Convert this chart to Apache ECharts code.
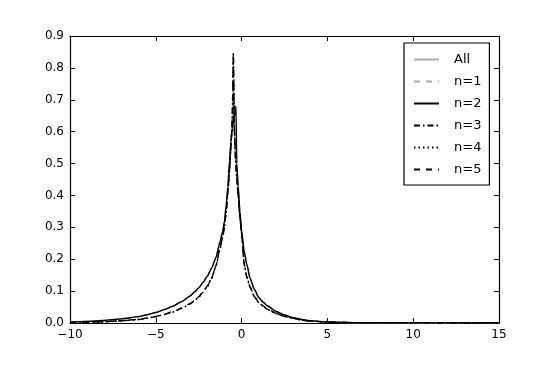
<!DOCTYPE html>
<html><head><meta charset="utf-8">
<script src="https://cdn.jsdelivr.net/npm/echarts@6/dist/echarts.min.js"></script>
<style>html,body{margin:0;padding:0;background:#fff}#c{width:555px;height:370px}</style>
</head><body><div id="c"></div>
<script>
const xs   = [-10,-9,-8,-7,-6,-5.5,-5,-4.5,-4,-3.5,-3,-2.75,-2.5,-2.25,-2,-1.75,-1.5,-1.25,-1.1,-1,-0.9,-0.8,-0.7,-0.62,-0.55,-0.48,-0.42,-0.36,-0.33,-0.28,-0.2,-0.1,0,0.15,0.3,0.5,0.75,1,1.25,1.5,2,2.5,3,3.5,4,5,6,7,8,10,12,15];
const yAll = [0.003,0.005,0.008,0.013,0.02,0.026,0.033,0.042,0.053,0.066,0.084,0.096,0.109,0.126,0.146,0.171,0.204,0.254,0.286,0.316,0.365,0.424,0.505,0.565,0.61,0.75,0.6,0.53,0.51,0.49,0.425,0.345,0.285,0.22,0.182,0.138,0.104,0.079,0.065,0.053,0.036,0.024,0.016,0.011,0.007,0.003,0.0015,0.001,0.0007,0.0004,0.0002,0.0001];
const yN1  = [0.001,0.002,0.004,0.007,0.011,0.015,0.02,0.027,0.035,0.046,0.06,0.069,0.081,0.096,0.114,0.139,0.177,0.234,0.268,0.298,0.345,0.408,0.478,0.548,0.63,0.8,0.59,0.51,0.48,0.445,0.395,0.325,0.275,0.182,0.143,0.11,0.081,0.063,0.052,0.042,0.029,0.02,0.014,0.009,0.006,0.003,0.0015,0.0008,0.0005,0.0002,0.0001,0];
const yN2  = [0.003,0.005,0.008,0.013,0.02,0.026,0.033,0.042,0.053,0.067,0.085,0.097,0.11,0.127,0.147,0.172,0.205,0.256,0.288,0.318,0.368,0.428,0.51,0.57,0.61,0.63,0.65,0.66,0.68,0.5,0.43,0.35,0.29,0.225,0.185,0.14,0.105,0.08,0.066,0.054,0.037,0.025,0.017,0.011,0.007,0.003,0.0015,0.001,0.0007,0.0004,0.0002,0.0001];
const yN3  = [0.001,0.002,0.004,0.007,0.011,0.015,0.02,0.027,0.035,0.046,0.06,0.07,0.082,0.097,0.115,0.14,0.178,0.235,0.27,0.3,0.347,0.41,0.48,0.55,0.63,0.85,0.6,0.52,0.49,0.45,0.4,0.33,0.28,0.185,0.145,0.112,0.082,0.064,0.053,0.043,0.03,0.021,0.015,0.009,0.006,0.003,0.0015,0.0008,0.0005,0.0002,0.0001,0];
const yN4  = [0.001,0.002,0.004,0.007,0.011,0.015,0.02,0.026,0.034,0.045,0.059,0.069,0.081,0.096,0.114,0.139,0.177,0.233,0.268,0.298,0.345,0.408,0.478,0.548,0.63,0.83,0.6,0.52,0.49,0.45,0.4,0.33,0.28,0.184,0.144,0.111,0.081,0.064,0.053,0.043,0.03,0.021,0.015,0.009,0.006,0.003,0.0015,0.0008,0.0005,0.0002,0.0001,0];
const yN5  = [0.001,0.002,0.004,0.007,0.012,0.016,0.021,0.028,0.036,0.047,0.061,0.071,0.083,0.098,0.116,0.141,0.18,0.238,0.272,0.302,0.35,0.412,0.482,0.552,0.635,0.84,0.61,0.525,0.495,0.455,0.402,0.332,0.282,0.187,0.147,0.113,0.083,0.065,0.054,0.044,0.031,0.021,0.015,0.009,0.006,0.003,0.0015,0.0008,0.0005,0.0002,0.0001,0];
const xTicks = [-10,-5,0,5,10,15];
const yTicks = [0,0.1,0.2,0.3,0.4,0.5,0.6,0.7,0.8,0.9];
const names = ['All','n=1','n=2','n=3','n=4','n=5'];
const ys = [yAll,yN1,yN2,yN3,yN4,yN5];
const styles = [
  {color:'#a8a8a8', width:1.6, type:'solid'},
  {color:'#a8a8a8', width:1.3, type:[6,6]},
  {color:'#000', width:1.4, type:'solid'},
  {color:'#000', width:1.3, type:[6,3,1.5,3]},
  {color:'#000', width:1.3, type:[1.5,3]},
  {color:'#000', width:1.3, type:[6,6]}
];
const font = 'DejaVu Sans';
const chart = echarts.init(document.getElementById('c'), null, {renderer:'canvas'});
const axisCommon = {
  axisLine:{show:true,onZero:false,lineStyle:{color:'#000',width:1.2}},
  axisTick:{show:true,inside:true,length:5,lineStyle:{color:'#000',width:1}},
  splitLine:{show:false}
};
chart.setOption({
  animation:false,
  grid:{left:70,right:56,top:36,bottom:47},
  legend:{
    data:names.map(n=>({name:n})),
    orient:'vertical', left:404, top:43, width:89,
    backgroundColor:'#fff', borderColor:'#000', borderWidth:1.2, borderRadius:0,
    padding:[10,8,9,9], itemWidth:25, itemHeight:10, itemGap:9,
    itemStyle:{opacity:0},
    textStyle:{fontFamily:font,fontSize:13,color:'#000',padding:[0,0,0,10]}
  },
  xAxis:[
    Object.assign({type:'value',min:-10,max:15,interval:5,position:'bottom',
      axisLabel:{color:'#000',fontFamily:font,fontSize:12,margin:6,formatter:v=>xTicks.includes(v)?String(v).replace('-','\u2212'):''}},axisCommon),
    Object.assign({type:'value',min:-10,max:15,interval:5,position:'top',axisLabel:{show:false}},axisCommon)
  ],
  yAxis:[
    Object.assign({type:'value',min:0,max:0.9,interval:0.1,position:'left',
      axisLabel:{color:'#000',fontFamily:font,fontSize:12,margin:6,formatter:v=>{const t=yTicks.find(a=>Math.abs(a-v)<1e-9);return t===undefined?'':t.toFixed(1);}}},axisCommon),
    Object.assign({type:'value',min:0,max:0.9,interval:0.1,position:'right',axisLabel:{show:false}},axisCommon)
  ],
  series:names.map((n,i)=>({
    name:n, type:'line', xAxisIndex:0, yAxisIndex:0,
    data:xs.map((x,j)=>[x,ys[i][j]]),
    showSymbol:false, symbol:'none', smooth:0.2, smoothMonotone:'x',
    lineStyle:styles[i], itemStyle:{color:styles[i].color},
    z: i===0?1:2+i
  }))
});
</script></body></html>
